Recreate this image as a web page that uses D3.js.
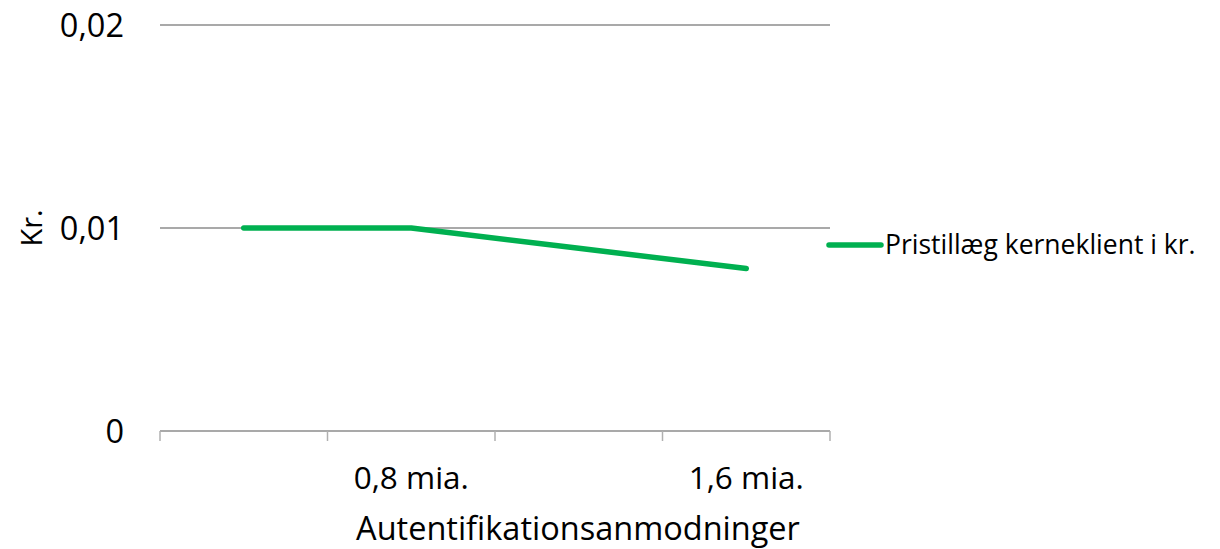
<!DOCTYPE html>
<html>
<head>
<meta charset="utf-8">
<script src="https://cdn.jsdelivr.net/npm/d3@7"></script>
<style>
  body { margin: 0; background: #fff; }
  text { font-family: "Open Sans", sans-serif; fill: #000; }
</style>
</head>
<body>
<svg id="chart" width="1220" height="549"></svg>
<script>
// data
const categories = ["0,4 mia.", "0,8 mia.", "1,2 mia.", "1,6 mia."];
const shownLabels = ["", "0,8 mia.", "", "1,6 mia."];
const prices = [0.01, 0.01, 0.009, 0.008];
const yTicks = [0, 0.01, 0.02];
const seriesName = "Pristillæg kerneklient i kr.";

const margin = { top: 25, right: 390, bottom: 118, left: 160 };
const width = 1220, height = 549;

const svg = d3.select("#chart");

const x = d3.scaleBand()
  .domain(categories)
  .range([margin.left, width - margin.right]);

const y = d3.scaleLinear()
  .domain([0, 0.02])
  .range([height - margin.bottom, margin.top]);

const fmt = d => d === 0 ? "0" : d3.format(".2f")(d).replace(".", ",");

// gridlines
svg.append("g")
  .selectAll("line")
  .data(yTicks.filter(d => d > 0))
  .join("line")
  .attr("x1", margin.left)
  .attr("x2", width - margin.right)
  .attr("y1", d => y(d))
  .attr("y2", d => y(d))
  .attr("stroke", "#8c8c8c")
  .attr("stroke-width", 1.5);

// y labels
svg.append("g")
  .selectAll("text")
  .data(yTicks)
  .join("text")
  .attr("x", 124)
  .attr("y", d => y(d))
  .attr("dy", "0.36em")
  .attr("text-anchor", "end")
  .attr("font-size", 32.5)
  .text(fmt);

// x axis line + tick marks at category boundaries
const x0 = y(0);
svg.append("line")
  .attr("x1", margin.left)
  .attr("x2", width - margin.right)
  .attr("y1", x0)
  .attr("y2", x0)
  .attr("stroke", "#8c8c8c")
  .attr("stroke-width", 1.5);

const bounds = categories.map(c => x(c)).concat([x.range()[1]]);
svg.append("g")
  .selectAll("line")
  .data(bounds)
  .join("line")
  .attr("x1", d => d)
  .attr("x2", d => d)
  .attr("y1", x0)
  .attr("y2", x0 + 10)
  .attr("stroke", "#b0b0b0")
  .attr("stroke-width", 1.5);

// x labels
svg.append("g")
  .selectAll("text")
  .data(categories)
  .join("text")
  .attr("x", d => x(d) + x.bandwidth() / 2)
  .attr("y", 489)
  .attr("text-anchor", "middle")
  .attr("font-size", 31.5)
  .text((d, i) => shownLabels[i]);

// axis titles
svg.append("text")
  .attr("x", 578)
  .attr("y", 540)
  .attr("text-anchor", "middle")
  .attr("font-size", 32.5)
  .text("Autentifikationsanmodninger");

svg.append("text")
  .attr("transform", `translate(42, ${y(0.01)}) rotate(-90)`)
  .attr("text-anchor", "middle")
  .attr("font-size", 29)
  .text("Kr.");

// series line
const line = d3.line()
  .x((d, i) => x(categories[i]) + x.bandwidth() / 2)
  .y(d => y(d));

svg.append("path")
  .datum(prices)
  .attr("d", line)
  .attr("fill", "none")
  .attr("stroke", "#00b050")
  .attr("stroke-width", 5.5)
  .attr("stroke-linecap", "round")
  .attr("stroke-linejoin", "round");

// legend
const lg = svg.append("g").attr("transform", "translate(829, 245)");
lg.append("line")
  .attr("x1", 0)
  .attr("x2", 52)
  .attr("stroke", "#00b050")
  .attr("stroke-width", 5.5)
  .attr("stroke-linecap", "round");
lg.append("text")
  .attr("x", 56)
  .attr("dy", "0.35em")
  .attr("font-size", 26.5)
  .text(seriesName);
</script>
</body>
</html>
